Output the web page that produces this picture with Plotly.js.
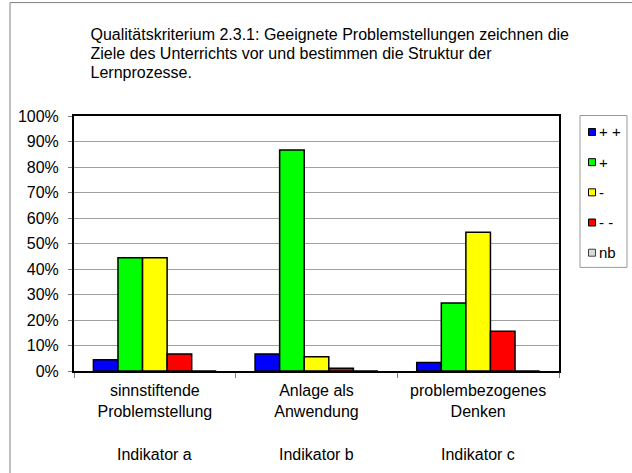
<!DOCTYPE html>
<html>
<head>
<meta charset="utf-8">
<script src="https://cdn.plot.ly/plotly-3.0.1.min.js"></script>
<style>html,body{margin:0;padding:0;background:#fff}#chart{width:632px;height:473px}</style>
</head>
<body>
<div id="chart"></div>
<script>
// Data
var categories = ["sinnstiftende<br>Problemstellung", "Anlage als<br>Anwendung", "problembezogenes<br>Denken"];
var indicators = ["Indikator a", "Indikator b", "Indikator c"];
var seriesNames = ["+ +", "+", "-", "- -", "nb"];
var valPlusPlus = [0.044, 0.067, 0.033];
var valPlus = [0.444, 0.867, 0.267];
var valMinus = [0.444, 0.056, 0.544];
var valMinusMinus = [0.067, 0.011, 0.156];
var valNb = [0, 0, 0];
var seriesValues = [valPlusPlus, valPlus, valMinus, valMinusMinus, valNb];
var seriesColors = ["#0000FF", "#00FF00", "#FFFF00", "#FF0000", "#D9D9D9"];
var titleLines = ["Qualitätskriterium 2.3.1: Geeignete Problemstellungen zeichnen die",
                  "Ziele des Unterrichts vor und bestimmen die Struktur der",
                  "Lernprozesse."];

var FONT = "Liberation Sans, Arial, sans-serif";
var traces = seriesNames.map(function(n, i){
  return {
    type: "bar", name: n, x: categories, y: seriesValues[i],
    showlegend: false,
    marker: {color: seriesColors[i], line: {color: "#000", width: 1.5}},
    hoverinfo: "y+name"
  };
});

var W = 632, H = 473, L = 74, R = 559, T = 115.5, B = 370.7;
var pw = R - L, ph = B - T;
function px(x){ return (x - L) / pw; }
function py(y){ return (B - y) / ph; }

var annotations = indicators.map(function(t, i){
  return {text: t, x: categories[i], xref: "x", y: py(454.5), yref: "paper",
          yanchor: "middle", xanchor: "center", showarrow: false,
          font: {family: FONT, size: 16, color: "#000"}};
});

// Legend (drawn as layout decoration from the series names / colours)
var shapes = [];
shapes.push({type: "rect", xref: "paper", yref: "paper",
             x0: px(580), x1: px(627), y0: py(267), y1: py(115),
             line: {color: "#999999", width: 1}, fillcolor: "#fff"});
var legY0 = 131.5, legStep = 30.2;
seriesNames.forEach(function(n, i){
  var cy = legY0 + i * legStep;
  shapes.push({type: "rect", xref: "paper", yref: "paper",
               x0: px(588.5), x1: px(595.5), y0: py(cy + 3.5), y1: py(cy - 3.5),
               line: {color: i === 4 ? "#404040" : "#000", width: 1}, fillcolor: seriesColors[i]});
  annotations.push({text: n, xref: "paper", yref: "paper", x: px(596.5), y: py(cy),
                    xanchor: "left", yanchor: "middle", showarrow: false,
                    font: {family: FONT, size: 15, color: "#000"}});
});
// outer chart frame (right and bottom edges lie outside the visible area)
shapes.push({type: "rect", xref: "paper", yref: "paper",
             x0: px(10), x1: px(645), y0: py(480), y1: py(2),
             line: {color: "#808080", width: 1}, fillcolor: "rgba(0,0,0,0)", layer: "below"});

var titleText = titleLines.map(function(s){
  return '<span style="font-size:16px">' + s + '</span>';
}).join("<br>");

var layout = {
  width: W, height: H,
  margin: {l: L, r: W - R, t: T, b: H - B, pad: 0},
  paper_bgcolor: "#fff", plot_bgcolor: "#fff",
  font: {family: FONT, size: 16, color: "#000"},
  title: {text: titleText, x: px(90.5), xref: "paper", xanchor: "left",
          y: 1 - 40 / H, yref: "container", yanchor: "top",
          font: {family: FONT, size: 14.5, color: "#000"}},
  barmode: "group", bargap: 0.24, bargroupgap: 0,
  xaxis: {type: "category", tickson: "boundaries", ticks: "outside", ticklen: 5,
          tickcolor: "#808080", showgrid: false, showline: true, linecolor: "#000",
          linewidth: 2, mirror: true, tickfont: {family: FONT, size: 16},
          ticklabelstandoff: 4, fixedrange: true},
  yaxis: {range: [0, 1], dtick: 0.1, tickformat: ".0%", ticks: "outside",
          ticklen: 4, tickcolor: "#808080", showgrid: true, gridcolor: "#a0a0a0",
          gridwidth: 1, showline: true, linecolor: "#000", linewidth: 2, mirror: true,
          zeroline: false, tickfont: {family: FONT, size: 16}, ticklabelstandoff: 6,
          fixedrange: true},
  annotations: annotations,
  shapes: shapes
};

Plotly.newPlot("chart", traces, layout, {displayModeBar: false, staticPlot: true});
</script>
</body>
</html>
